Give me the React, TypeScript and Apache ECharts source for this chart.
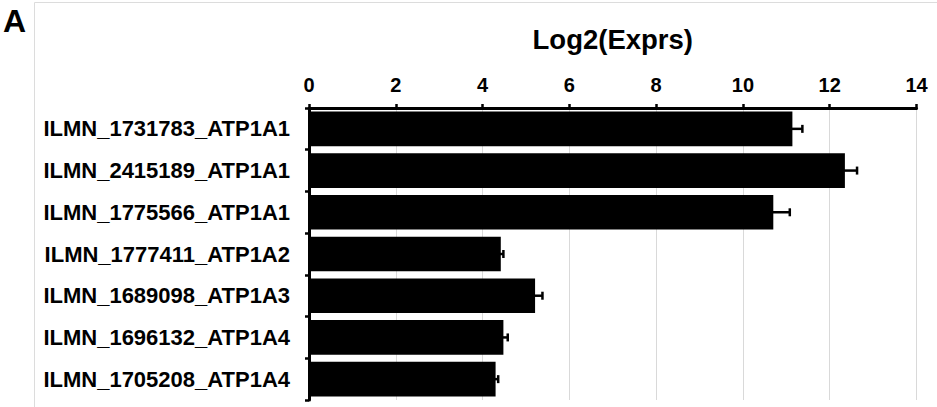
import React, { useEffect, useRef } from "react";
import * as echarts from "echarts";

// Probe IDs (top to bottom)
const probes = [
  "ILMN_1731783_ATP1A1",
  "ILMN_2415189_ATP1A1",
  "ILMN_1775566_ATP1A1",
  "ILMN_1777411_ATP1A2",
  "ILMN_1689098_ATP1A3",
  "ILMN_1696132_ATP1A4",
  "ILMN_1705208_ATP1A4",
];

// Mean log2 expression per probe
const log2Exprs = [11.14, 12.35, 10.7, 4.42, 5.21, 4.48, 4.3];

// Standard error per probe
const stdErr = [0.23, 0.28, 0.38, 0.06, 0.17, 0.1, 0.06];

const axisTicks = { min: 0, max: 14, interval: 2 };

const FONT = "'Liberation Sans', Arial, Helvetica, sans-serif";

export default function App() {
  const ref = useRef<HTMLDivElement>(null);

  useEffect(() => {
    if (!ref.current) return;
    const chart = echarts.init(ref.current, undefined, { renderer: "svg" });

    const errData = log2Exprs.map((v, i) => [v, i, stdErr[i]]);

    chart.setOption({
      animation: false,
      backgroundColor: "#ffffff",
      grid: { left: 309, right: 20.5, top: 108, bottom: 7, containLabel: false },
      graphic: [
        {
          type: "line",
          shape: { x1: 34.5, y1: 2.5, x2: 937, y2: 2.5 },
          style: { stroke: "#dcdcdc", lineWidth: 1 },
          silent: true,
        },
        {
          type: "line",
          shape: { x1: 34.5, y1: 2.5, x2: 34.5, y2: 407 },
          style: { stroke: "#dcdcdc", lineWidth: 1 },
          silent: true,
        },
        {
          type: "text",
          left: 3,
          top: 5,
          style: {
            text: "A",
            font: `bold 32px ${FONT}`,
            fill: "#000",
          },
        },
      ],
      xAxis: {
        type: "value",
        position: "top",
        min: axisTicks.min,
        max: axisTicks.max,
        interval: axisTicks.interval,
        name: "Log2(Exprs)",
        nameLocation: "middle",
        nameGap: 55,
        nameTextStyle: {
          fontFamily: FONT,
          fontWeight: "bold",
          fontSize: 27.5,
          color: "#000",
        },
        axisLine: { show: true, lineStyle: { color: "#000", width: 3 } },
        axisTick: { show: true, length: 4, lineStyle: { color: "#000", width: 2.5 } },
        axisLabel: {
          margin: 13,
          fontFamily: FONT,
          fontWeight: "bold",
          fontSize: 20,
          color: "#000",
        },
        splitLine: { show: true, lineStyle: { color: "#d9d9d9", width: 1 } },
      },
      yAxis: {
        type: "category",
        data: probes,
        inverse: true,
        axisLine: { show: true, lineStyle: { color: "#000", width: 3 } },
        axisTick: { show: true, length: 4, lineStyle: { color: "#000", width: 2.5 } },
        axisLabel: {
          margin: 19,
          fontFamily: FONT,
          fontWeight: "bold",
          fontSize: 22,
          color: "#000",
        },
        splitLine: { show: false },
      },
      series: [
        {
          type: "bar",
          data: log2Exprs,
          barCategoryGap: "17%",
          itemStyle: { color: "#000" },
          z: 2,
        },
        {
          type: "custom",
          data: errData,
          encode: { x: 0, y: 1 },
          z: 3,
          renderItem: (params: any, api: any) => {
            const v = api.value(0);
            const idx = api.value(1);
            const e = api.value(2);
            const lo = api.coord([v - e, idx]);
            const hi = api.coord([v + e, idx]);
            const cap = 4;
            const style = { stroke: "#000", lineWidth: 2.5 };
            return {
              type: "group",
              children: [
                { type: "line", shape: { x1: lo[0], y1: lo[1], x2: hi[0], y2: hi[1] }, style },
                { type: "line", shape: { x1: hi[0], y1: hi[1] - cap, x2: hi[0], y2: hi[1] + cap }, style },
                { type: "line", shape: { x1: lo[0], y1: lo[1] - cap, x2: lo[0], y2: lo[1] + cap }, style },
              ],
            };
          },
        },
      ],
    });

    return () => chart.dispose();
  }, []);

  return (
    <div
      ref={ref}
      style={{ position: "fixed", left: 0, top: 0, width: 937, height: 407 }}
    />
  );
}
